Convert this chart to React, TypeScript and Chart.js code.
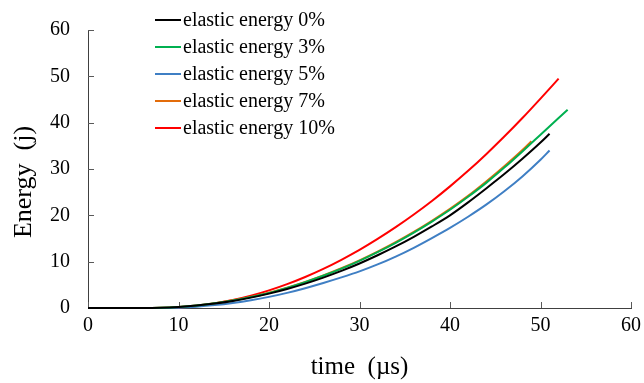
import { useEffect, useRef } from "react";
import { Chart, registerables } from "chart.js";

Chart.register(...registerables);

const FONT = '"Liberation Serif", "Times New Roman", serif';

const SERIES_LABELS = [
  "elastic energy 0%",
  "elastic energy 3%",
  "elastic energy 5%",
  "elastic energy 7%",
  "elastic energy 10%",
];
const SERIES_COLORS = ["#000000", "#00B050", "#3F7FC4", "#E36C0A", "#FF0000"];

const T_BLACK = [0, 2, 4, 6, 8, 10, 12, 14, 16, 18, 20, 22, 24, 26, 28, 30, 32, 34, 36, 38, 40, 42, 44, 46, 48, 50, 51];
const E_BLACK = [0, 0, 0, 0, 0.05, 0.22, 0.52, 0.96, 1.53, 2.24, 3.1, 4.1, 5.26, 6.56, 8.01, 9.61, 11.38, 13.28, 15.36, 17.6, 20.0, 22.8, 25.8, 28.9, 32.2, 35.7, 37.6];

const T_GREEN = [0, 2, 4, 6, 8, 10, 12, 14, 16, 18, 20, 22, 24, 26, 28, 30, 32, 34, 36, 38, 40, 42, 44, 46, 48, 50, 52, 53];
const E_GREEN = [0, 0, 0, 0, 0.05, 0.23, 0.55, 1.02, 1.62, 2.37, 3.25, 4.35, 5.58, 6.95, 8.49, 10.19, 12.06, 14.08, 16.28, 18.66, 21.2, 24.0, 27.0, 30.3, 33.8, 37.4, 41.0, 42.8];

const T_BLUE = [0, 2, 4, 6, 8, 10, 12, 14, 16, 18, 20, 22, 24, 26, 28, 30, 32, 34, 36, 38, 40, 42, 44, 46, 48, 50, 51];
const E_BLUE = [0, 0, 0, 0, 0, 0.08, 0.29, 0.62, 1.08, 1.67, 2.4, 3.27, 4.28, 5.4, 6.6, 7.9, 9.4, 11.1, 13.0, 15.1, 17.3, 19.7, 22.3, 25.2, 28.4, 32.0, 34.0];

const T_ORANGE = [0, 2, 4, 6, 8, 10, 12, 14, 16, 18, 20, 22, 24, 26, 28, 30, 32, 34, 36, 38, 40, 42, 44, 46, 48, 49];
const E_ORANGE = [0, 0, 0, 0, 0.05, 0.24, 0.56, 1.04, 1.65, 2.4, 3.3, 4.4, 5.64, 7.02, 8.57, 10.28, 12.16, 14.2, 16.42, 18.82, 21.4, 24.2, 27.3, 30.6, 34.1, 36.0];

const T_RED = [0, 2, 4, 6, 8, 10, 12, 14, 16, 18, 20, 22, 24, 26, 28, 30, 32, 34, 36, 38, 40, 42, 44, 46, 48, 50, 52];
const E_RED = [0, 0, 0, 0, 0, 0.11, 0.44, 0.97, 1.71, 2.65, 3.8, 5.15, 6.7, 8.45, 10.41, 12.54, 14.9, 17.44, 20.17, 23.09, 26.25, 29.6, 33.2, 37.0, 41.0, 45.2, 49.5];

const SERIES_T = [T_BLACK, T_GREEN, T_BLUE, T_ORANGE, T_RED];
const SERIES_E = [E_BLACK, E_GREEN, E_BLUE, E_ORANGE, E_RED];

const X_MIN = 0;
const X_MAX = 60;
const X_STEP = 10;
const Y_MIN = 0;
const Y_MAX = 60;
const Y_STEP = 10;

const X_TITLE = "time  (\u00B5s)";
const Y_TITLE = "Energy  (j)    ";

const innerTicks = {
  id: "innerTicks",
  beforeDatasetsDraw(chart: any) {
    const { ctx, chartArea } = chart;
    const x = chart.scales.x;
    const y = chart.scales.y;
    ctx.save();
    ctx.strokeStyle = "#595959";
    ctx.lineWidth = 1;
    x.ticks.forEach((t: any) => {
      const px = Math.round(x.getPixelForValue(t.value)) + 0.5;
      ctx.beginPath();
      ctx.moveTo(px, chartArea.bottom);
      ctx.lineTo(px, chartArea.bottom - 6);
      ctx.stroke();
    });
    y.ticks.forEach((t: any) => {
      const py = Math.round(y.getPixelForValue(t.value)) + 0.5;
      ctx.beginPath();
      ctx.moveTo(chartArea.left, py);
      ctx.lineTo(chartArea.left + 6, py);
      ctx.stroke();
    });
    ctx.restore();
  },
};

const boxLegend = {
  id: "boxLegend",
  afterDraw(chart: any, _args: any, opts: any) {
    const { ctx } = chart;
    ctx.save();
    ctx.font = "20px " + FONT;
    ctx.textBaseline = "middle";
    ctx.textAlign = "left";
    chart.data.datasets.forEach((ds: any, i: number) => {
      const yy = opts.top + i * opts.rowGap;
      ctx.strokeStyle = ds.borderColor;
      ctx.lineWidth = 2;
      ctx.beginPath();
      ctx.moveTo(opts.left, yy);
      ctx.lineTo(opts.left + opts.lineLen, yy);
      ctx.stroke();
      ctx.fillStyle = "#000";
      ctx.fillText(ds.label, opts.left + opts.lineLen + 2, yy + 1);
    });
    ctx.restore();
  },
};

export default function App() {
  const ref = useRef<HTMLCanvasElement>(null);
  useEffect(() => {
    if (!ref.current) return;
    const datasets = SERIES_LABELS.map((label, i) => ({
      label,
      data: SERIES_T[i].map((t, j) => ({ x: t, y: SERIES_E[i][j] })),
      borderColor: SERIES_COLORS[i],
      backgroundColor: SERIES_COLORS[i],
      borderWidth: 2,
      pointRadius: 0,
      cubicInterpolationMode: "monotone" as const,
      fill: false,
      clip: false as any,
    }));
    const chart = new Chart(ref.current, {
      type: "line",
      data: { datasets },
      plugins: [innerTicks, boxLegend],
      options: {
        animation: false,
        responsive: false,
        devicePixelRatio: 1,
        layout: { padding: { left: 8, right: 13, top: 25, bottom: 0 } },
        plugins: {
          legend: { display: false },
          tooltip: { enabled: false },
          boxLegend: { left: 155, top: 20, rowGap: 27, lineLen: 26 },
        } as any,
        scales: {
          x: {
            type: "linear",
            min: X_MIN,
            max: X_MAX,
            afterFit: (s: any) => {
              s.height = 75;
              s.paddingRight = 0;
              s.paddingLeft = 0;
            },
            ticks: {
              stepSize: X_STEP,
              color: "#000",
              padding: 6,
              maxRotation: 0,
              font: { family: FONT, size: 20 },
            },
            grid: { display: false, drawTicks: false },
            border: { display: true, color: "#404040", width: 1 },
            title: {
              display: true,
              text: X_TITLE,
              color: "#000",
              font: { family: FONT, size: 25 },
              padding: { top: 1, bottom: 1 },
            },
          },
          y: {
            type: "linear",
            min: Y_MIN,
            max: Y_MAX,
            afterFit: (s: any) => {
              s.width = 80;
            },
            ticks: {
              stepSize: Y_STEP,
              color: "#000",
              padding: 18,
              font: { family: FONT, size: 20 },
            },
            grid: { display: false, drawTicks: false },
            border: { display: true, color: "#404040", width: 1 },
            title: {
              display: true,
              text: Y_TITLE,
              color: "#000",
              font: { family: FONT, size: 26 },
              padding: { top: 1, bottom: 1 },
            },
          },
        },
      },
    });
    return () => chart.destroy();
  }, []);
  return (
    <div style={{ position: "absolute", left: 0, top: 0, width: 644, height: 383, background: "#fff" }}>
      <canvas ref={ref} width={644} height={383} style={{ width: 644, height: 383, display: "block" }} />
    </div>
  );
}
